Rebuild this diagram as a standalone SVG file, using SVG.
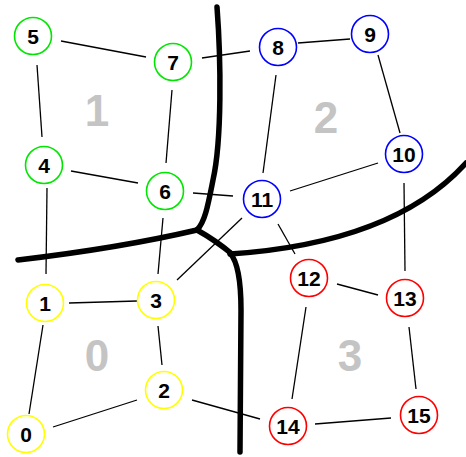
<svg xmlns="http://www.w3.org/2000/svg" width="466" height="457" viewBox="0 0 466 457">
<style>
.bg{fill:#fff}
.e line{stroke:#000;stroke-width:1.3}
.b path{fill:none;stroke:#000;stroke-width:5.5;stroke-linecap:round;stroke-linejoin:round}
.n circle{fill:#fff;stroke-width:1.6}
.g circle{stroke:#00e600}
.u circle{stroke:#0000ff}
.y circle{stroke:#ffff00}
.r circle{stroke:#ff0000}
.n text{font-family:"Liberation Sans",Arial,sans-serif;font-weight:bold;font-size:21px;text-anchor:middle;fill:#000}
.lab{font-family:"Liberation Sans",Arial,sans-serif;font-weight:bold;font-size:44px;text-anchor:middle;fill:#c4c4c4}
</style>
<rect class="bg" width="466" height="457"/>
<g id="regions">
<text class="lab" x="97" y="126">1</text>
<text class="lab" x="326" y="133">2</text>
<text class="lab" x="97" y="371">0</text>
<text class="lab" x="350" y="371">3</text>
</g>
<g id="connectors" class="e">
<line x1="61" y1="41" x2="146" y2="57"/>
<line x1="37" y1="65" x2="42" y2="137"/>
<line x1="172" y1="90" x2="166" y2="163"/>
<line x1="71" y1="171" x2="138" y2="183"/>
<line x1="47" y1="188" x2="46" y2="274"/>
<line x1="163" y1="218" x2="158" y2="274"/>
<line x1="193" y1="193" x2="233" y2="196"/>
<line x1="202" y1="58" x2="250" y2="51"/>
<line x1="298" y1="43" x2="350" y2="39"/>
<line x1="276" y1="75" x2="263" y2="173"/>
<line x1="378" y1="55" x2="400" y2="133"/>
<line x1="378" y1="163" x2="290" y2="191"/>
<line x1="404" y1="183" x2="405" y2="271"/>
<line x1="242" y1="218" x2="177" y2="280"/>
<line x1="278" y1="224" x2="295" y2="254"/>
<line x1="69" y1="303" x2="137" y2="301"/>
<line x1="43" y1="325" x2="29" y2="414"/>
<line x1="158" y1="326" x2="162" y2="365"/>
<line x1="53" y1="427" x2="137" y2="400"/>
<line x1="192" y1="400" x2="260" y2="419"/>
<line x1="337" y1="284" x2="378" y2="295"/>
<line x1="306" y1="307" x2="292" y2="399"/>
<line x1="409" y1="327" x2="416" y2="389"/>
<line x1="315" y1="424" x2="391" y2="418"/>
</g>
<g id="boundaries" class="b">
<path d="M217,7 C221,60 222,140 213,180 C208,205 205,222 197,230"/>
<path d="M18,260 Q120,248 197,230"/>
<path d="M197,230 Q215,240 232,254"/>
<path d="M230,254 C320,248 410,225 466,163"/>
<path d="M230,253 C238,262 241,280 241,310 L240,452"/>
</g>
<g id="n0" class="n y"><circle cx="26" cy="434" r="18.5"/><text x="26" y="441.5">0</text></g>
<g id="n1" class="n y"><circle cx="45" cy="303" r="18.5"/><text x="45" y="310.5">1</text></g>
<g id="n2" class="n y"><circle cx="164" cy="390" r="18.5"/><text x="164" y="397.5">2</text></g>
<g id="n3" class="n y"><circle cx="156" cy="300" r="18.5"/><text x="156" y="307.5">3</text></g>
<g id="n4" class="n g"><circle cx="44" cy="165" r="18.5"/><text x="44" y="172.5">4</text></g>
<g id="n5" class="n g"><circle cx="33" cy="36" r="18.5"/><text x="33" y="43.5">5</text></g>
<g id="n6" class="n g"><circle cx="165" cy="191" r="18.5"/><text x="165" y="198.5">6</text></g>
<g id="n7" class="n g"><circle cx="173" cy="62" r="18.5"/><text x="173" y="69.5">7</text></g>
<g id="n8" class="n u"><circle cx="278" cy="47" r="18.5"/><text x="278" y="54.5">8</text></g>
<g id="n9" class="n u"><circle cx="370" cy="34" r="18.5"/><text x="370" y="41.5">9</text></g>
<g id="n10" class="n u"><circle cx="404" cy="154" r="18.5"/><text x="404" y="161.5">10</text></g>
<g id="n11" class="n u"><circle cx="262" cy="199" r="18.5"/><text x="262" y="206.5">11</text></g>
<g id="n12" class="n r"><circle cx="309" cy="278" r="18.5"/><text x="309" y="285.5">12</text></g>
<g id="n13" class="n r"><circle cx="405" cy="298" r="18.5"/><text x="405" y="305.5">13</text></g>
<g id="n14" class="n r"><circle cx="288" cy="426" r="18.5"/><text x="288" y="433.5">14</text></g>
<g id="n15" class="n r"><circle cx="419" cy="415" r="18.5"/><text x="419" y="422.5">15</text></g>
</svg>
